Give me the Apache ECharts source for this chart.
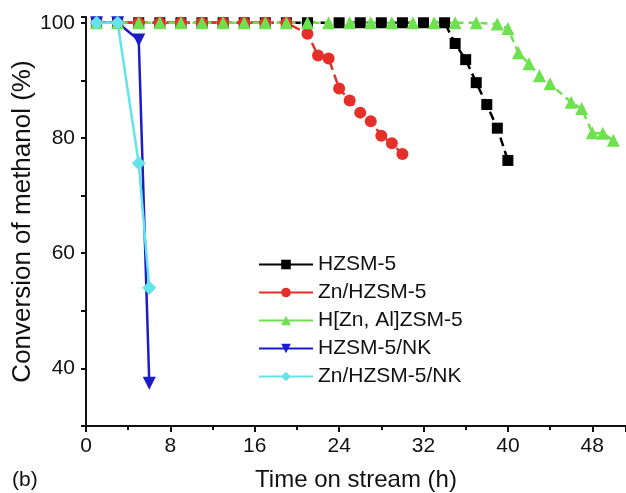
<!DOCTYPE html>
<html lang="en">
<head>
  <meta charset="UTF-8">
  <title>Conversion of methanol</title>
  <script src="https://cdn.jsdelivr.net/npm/echarts@6/dist/echarts.min.js"></script>
  <style>
    html, body { margin: 0; padding: 0; background: #fff; }
    #chart { width: 626px; height: 493px; }
  </style>
</head>
<body>
  <div id="chart"></div>
</body>
<script>
  const seriesNames = ['HZSM-5', 'Zn/HZSM-5', 'H[Zn, Al]ZSM-5', 'HZSM-5/NK', 'Zn/HZSM-5/NK'];

  const hzsmX = [1, 3, 5, 7, 9, 11, 13, 15, 17, 19, 21, 24, 26, 28, 30, 32, 34, 35, 36, 37, 38, 39, 40];
  const hzsmY = [100, 100, 100, 100, 100, 100, 100, 100, 100, 100, 100, 100, 100, 100, 100, 100, 100, 96.4, 93.6, 89.6, 85.8, 81.7, 76.1];

  const znX = [1, 3, 5, 7, 9, 11, 13, 15, 17, 19, 21, 22, 23, 24, 25, 26, 27, 28, 29, 30];
  const znY = [100, 100, 100, 100, 100, 100, 100, 100, 100, 100, 98.1, 94.3, 93.8, 88.6, 86.5, 84.4, 82.9, 80.4, 79.1, 77.2];

  const znAlX = [1, 3, 5, 7, 9, 11, 13, 15, 17, 19, 21, 23, 25, 27, 29, 31, 33, 35, 37, 39, 40, 41, 42, 43, 44, 46, 47, 48, 49, 50];
  const znAlY = [100, 100, 100, 100, 100, 100, 100, 100, 100, 100, 100, 100, 100, 100, 100, 100, 100, 100, 100, 99.8, 99, 94.8, 92.9, 90.8, 89.4, 86.2, 85.1, 80.9, 80.8, 79.6];

  const nkX = [1, 3, 5, 6];
  const nkY = [100, 100, 97, 37.4];

  const znNkX = [1, 3, 5, 6];
  const znNkY = [100, 100, 75.6, 54];

  const xTickLabels = [0, 8, 16, 24, 32, 40, 48];
  const yTickLabels = [40, 60, 80, 100];

  const pairs = (xs, ys) => xs.map((x, i) => [x, ys[i]]);

  const chart = echarts.init(document.getElementById('chart'));
  const font = 'Liberation Sans, Arial, sans-serif';

  chart.setOption({
    animation: false,
    textStyle: { fontFamily: font },
    grid: { left: 86, right: 0, top: 17, bottom: 67, outerBoundsMode: 'none' },
    legend: {
      orient: 'vertical',
      left: 253,
      top: 249,
      itemWidth: 54,
      itemHeight: 12,
      itemGap: 7,
      data: seriesNames,
      textStyle: { fontSize: 21, color: '#111', fontFamily: font },
      lineStyle: { type: 'solid' }
    },
    graphic: [{
      type: 'text',
      left: 12,
      top: 470,
      style: { text: '(b)', fontSize: 21, fill: '#111', fontFamily: font }
    }],
    xAxis: {
      type: 'value',
      min: 0,
      max: 51.2,
      interval: 8,
      name: 'Time on stream (h)',
      nameLocation: 'middle',
      nameGap: 42,
      nameTextStyle: { fontSize: 24, color: '#111' },
      axisLine: { lineStyle: { color: '#111', width: 2 } },
      axisTick: { length: 6, lineStyle: { width: 2 } },
      minorTick: { show: true, splitNumber: 2, length: 4, lineStyle: { color: '#111', width: 2 } },
      splitLine: { show: false },
      axisLabel: {
        fontSize: 21,
        color: '#111',
        margin: 10,
        formatter: v => (xTickLabels.includes(v) ? String(v) : '')
      }
    },
    yAxis: {
      type: 'value',
      min: 30,
      max: 101,
      interval: 10,
      name: 'Conversion of methanol (%)',
      nameLocation: 'middle',
      nameGap: 50,
      nameMoveOverlap: false,
      nameTextStyle: { fontSize: 26, color: '#111' },
      axisLine: { show: true, lineStyle: { color: '#111', width: 2 } },
      axisTick: { show: true, length: 5, lineStyle: { width: 2 } },
      splitLine: { show: false },
      axisLabel: {
        fontSize: 21,
        color: '#111',
        margin: 11,
        formatter: v => (yTickLabels.includes(v) ? String(v) : '')
      }
    },
    series: [
      {
        name: seriesNames[0], type: 'line', data: pairs(hzsmX, hzsmY),
        symbol: 'rect', symbolSize: 11,
        itemStyle: { color: '#000' },
        lineStyle: { color: '#000', width: 2.5, type: [9, 5] }
      },
      {
        name: seriesNames[1], type: 'line', data: pairs(znX, znY),
        symbol: 'circle', symbolSize: 12,
        itemStyle: { color: '#e5302a' },
        lineStyle: { color: '#e5302a', width: 2.5, type: [9, 5] }
      },
      {
        name: seriesNames[2], type: 'line', data: pairs(znAlX, znAlY),
        symbol: 'triangle', symbolSize: 13,
        itemStyle: { color: '#6ee24e' },
        lineStyle: { color: '#6ee24e', width: 2.5, type: [7, 5] }
      },
      {
        name: seriesNames[3], type: 'line', data: pairs(nkX, nkY),
        symbol: 'triangle', symbolRotate: 180, symbolSize: 13,
        itemStyle: { color: '#1c1cc8' },
        lineStyle: { color: '#1c1cc8', width: 2.5 }
      },
      {
        name: seriesNames[4], type: 'line', data: pairs(znNkX, znNkY),
        symbol: 'diamond', symbolSize: 14,
        itemStyle: { color: '#63e3ea' },
        lineStyle: { color: '#63e3ea', width: 2.5 }
      }
    ]
  });
</script>
</html>
